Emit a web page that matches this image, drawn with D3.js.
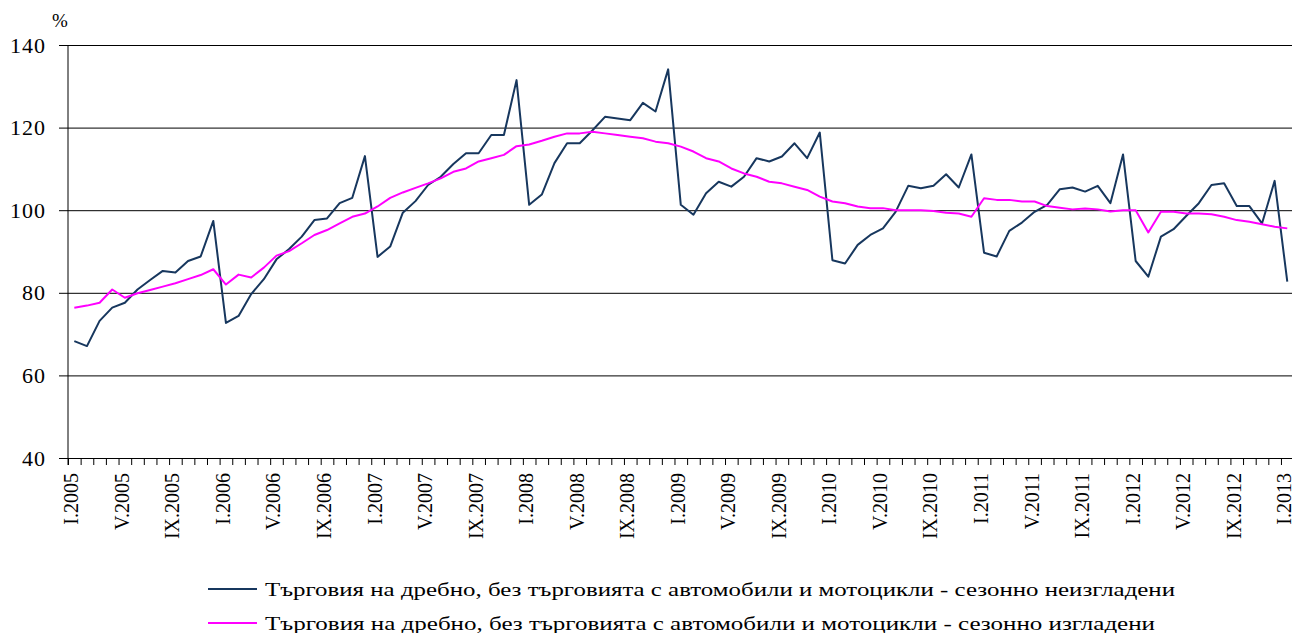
<!DOCTYPE html>
<html>
<head>
<meta charset="utf-8">
<script src="https://cdn.jsdelivr.net/npm/d3@7"></script>
<style>
  body { margin: 0; background: #fff; }
  svg text { font-family: 'Liberation Serif', 'Times New Roman', serif; fill: #000; }
</style>
</head>
<body>
<svg width="1292" height="633"></svg>
<script>
// categories: months I.2005 .. I.2013
var years = [2005, 2006, 2007, 2008, 2009, 2010, 2011, 2012, 2013];
var romans = ['I','II','III','IV','V','VI','VII','VIII','IX','X','XI','XII'];
var months = [];
years.forEach(function(y){
    romans.forEach(function(r){
        if(y < 2013 || r === 'I') months.push(r + '.' + y);
    });
});

// seasonally unadjusted (dark line)
var unadjusted = [
    68.3, 67.1, 73.2, 76.4, 77.6, 80.8, 83.1, 85.3, 84.9, 87.7, 88.8, 97.4,
    72.7, 74.4, 79.7, 83.3, 88.1, 90.6, 93.6, 97.6, 98.0, 101.7, 103.0, 113.1,
    88.7, 91.2, 99.4, 102.2, 106.1, 108.1, 111.2, 113.8, 113.8, 118.2, 118.2, 131.5,
    101.3, 103.8, 111.4, 116.2, 116.2, 119.3, 122.6, 122.2, 121.8, 126.0, 123.9, 134.1,
    101.3, 98.9, 104.1, 106.9, 105.7, 108.1, 112.6, 111.8, 113.0, 116.2, 112.6, 118.8,
    87.9, 87.1, 91.6, 94.0, 95.6, 99.6, 105.9, 105.3, 105.9, 108.7, 105.5, 113.5,
    89.7, 88.8, 95.0, 97.0, 99.6, 101.3, 105.1, 105.5, 104.5, 105.9, 101.7, 113.5,
    87.7, 83.9, 93.6, 95.4, 98.6, 101.7, 106.1, 106.5, 101.0, 101.0, 96.8, 107.1,
    82.7
];

// seasonally adjusted (magenta line)
var adjusted = [
    76.4, 76.9, 77.6, 80.8, 78.8, 79.9, 80.7, 81.5, 82.3, 83.3, 84.3, 85.7,
    82.0, 84.4, 83.7, 86.1, 89.0, 90.1, 92.0, 94.0, 95.2, 96.8, 98.4, 99.2,
    100.9, 103.0, 104.3, 105.4, 106.5, 107.7, 109.3, 110.1, 111.8, 112.6, 113.4, 115.5,
    115.9, 116.8, 117.8, 118.6, 118.6, 119.0, 118.6, 118.2, 117.8, 117.4, 116.6, 116.2,
    115.4, 114.2, 112.6, 111.8, 110.1, 108.9, 108.1, 106.9, 106.5, 105.7, 104.9, 103.3,
    102.1, 101.7, 100.9, 100.5, 100.5, 100.0, 100.0, 100.0, 99.8, 99.4, 99.2, 98.4,
    102.9, 102.5, 102.5, 102.1, 102.1, 101.0, 100.6, 100.2, 100.4, 100.2, 99.7, 100.0,
    100.0, 94.6, 99.6, 99.6, 99.2, 99.2, 99.0, 98.4, 97.6, 97.2, 96.6, 96.0,
    95.6
];

var yTicks = [40, 60, 80, 100, 120, 140];
var seriesNames = [
    'Търговия на дребно, без търговията с автомобили и мотоцикли - сезонно неизгладени',
    'Търговия на дребно, без търговията с автомобили и мотоцикли - сезонно изгладени'
];
var seriesColors = ['#17375e', '#ff00ff'];
var legendWidths = [910, 890];

var svg = d3.select('svg');

var plot = {l: 68, t: 45, b: 458, step: 12.635};
var plotRight = plot.l + months.length * plot.step;

var x = d3.scaleBand()
    .domain(months)
    .range([plot.l, plotRight])
    .paddingInner(0)
    .paddingOuter(0);
var xEdge = d3.scaleLinear()
    .domain([0, months.length])
    .range([plot.l, plotRight]);
var y = d3.scaleLinear()
    .domain([40, 140])
    .range([plot.b, plot.t]);

//Gridlines and y labels
var yAxis = svg.append('g')
    .attr('class','y-axis')
    .attr('transform','translate(59,0)')
    .call(d3.axisLeft(y)
        .tickValues(yTicks)
        .tickSize(-(plotRight - 59))
        .tickSizeOuter(0)
        .tickPadding(13));
yAxis.select('.domain').remove();
yAxis.selectAll('line')
    .attr('stroke','#000')
    .attr('stroke-width',1);
yAxis.selectAll('text')
    .style('font-family',"'Liberation Serif', 'Times New Roman', serif")
    .style('font-size','22px')
    .style('letter-spacing','1px')
    .attr('fill','#000');

svg.append('text')
    .attr('x',60)
    .attr('y',27)
    .attr('text-anchor','middle')
    .style('font-size','19px')
    .text('%');

//x axis with ticks between the months
var xAxis = svg.append('g')
    .attr('class','x-axis')
    .attr('transform','translate(0,'+plot.b+')')
    .call(d3.axisBottom(xEdge)
        .tickValues(d3.range(0, months.length + 1))
        .tickSize(7)
        .tickSizeOuter(0)
        .tickFormat(''));
xAxis.selectAll('line, path').attr('stroke','#000');

svg.append('line')
    .attr('x1',plot.l).attr('x2',plot.l)
    .attr('y1',plot.t).attr('y2',plot.b + 7)
    .attr('stroke','#000');

svg.append('g')
    .attr('class','x-labels')
    .selectAll('text')
    .data(months.filter(function(d, i){ return i % 4 === 0; }))
    .enter()
    .append('text')
    .attr('text-anchor','end')
    .attr('transform',function(d){
        return 'translate('+(x(d) + x.bandwidth()/2 - 3)+',473) rotate(-90)';
    })
    .attr('dy','0.35em')
    .style('font-size','20px')
    .text(function(d){ return d; });

//the two lines
var line = d3.line()
    .x(function(d, i){ return x(months[i]) + x.bandwidth()/2; })
    .y(function(d){ return y(d); });

[unadjusted, adjusted].forEach(function(series, k){
    svg.append('path')
        .datum(series)
        .attr('fill','none')
        .attr('stroke',seriesColors[k])
        .attr('stroke-width',2)
        .attr('stroke-linejoin','round')
        .attr('d',line);
});

//legend
var legend = svg.append('g').attr('class','legend');
seriesNames.forEach(function(name, k){
    var ly = 589 + k * 34;
    legend.append('line')
        .attr('x1',208).attr('x2',257)
        .attr('y1',ly).attr('y2',ly)
        .attr('stroke',seriesColors[k])
        .attr('stroke-width',2);
    legend.append('text')
        .attr('x',265)
        .attr('y',ly + 7)
        .attr('textLength',legendWidths[k])
        .attr('lengthAdjust','spacingAndGlyphs')
        .style('font-size','19px')
        .text(name);
});
</script>
</body>
</html>
